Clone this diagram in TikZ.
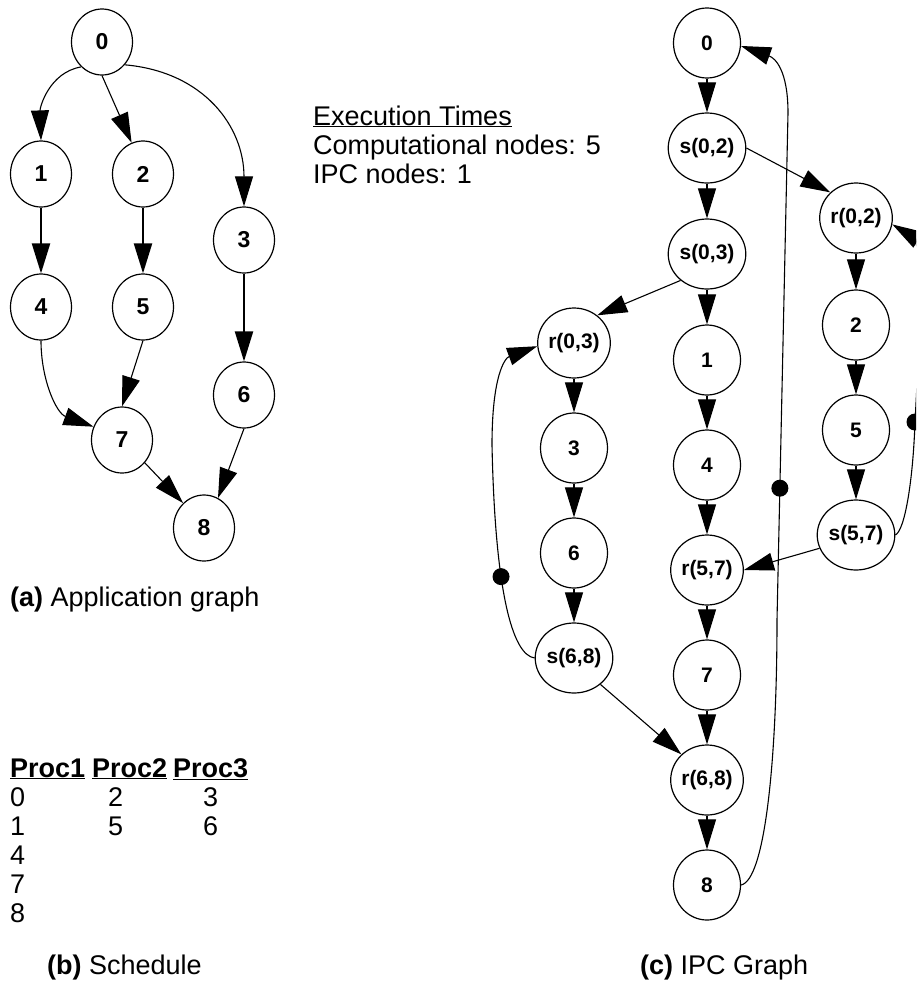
\documentclass[tikz,border=0pt]{standalone}
\usepackage{fontspec}
\setmainfont{Liberation Sans}
\usetikzlibrary{arrows.meta,shapes.geometric}

\tikzset{
  anode/.style={ellipse, draw, line width=1.2pt, minimum width=61pt, minimum height=66pt,
                inner sep=0pt, font=\fontsize{23}{24}\selectfont\bfseries},
  inode/.style={anode, minimum width=67pt, minimum height=70pt,
                font=\fontsize{21}{22}\selectfont\bfseries},
  arr/.style={line width=1.1pt, -{Triangle[length=30pt,width=18pt]}},
  thickarr/.style={arr, line width=2.2pt},
  tok/.style={circle, fill, inner sep=0pt, minimum size=17pt},
  txt/.style={anchor=base west, inner sep=0pt, font=\fontsize{27}{29}\selectfont},
}

\begin{document}
\begin{tikzpicture}[x=1pt, y=-1pt]
\useasboundingbox (0,0) rectangle (916,996);
\clip (0,0) rectangle (916,996);

% ---------- (a) application graph ----------
\node[anode] (a0) at (102,42)  {0};
\node[anode] (a1) at (41,174)  {1};
\node[anode] (a2) at (143,174) {2};
\node[anode] (a3) at (244,240) {3};
\node[anode] (a4) at (41,307)  {4};
\node[anode] (a5) at (143,307) {5};
\node[anode] (a6) at (244,395) {6};
\node[anode] (a7) at (122,440) {7};
\node[anode] (a8) at (204,528) {8};

\draw[arr] (a0.230) to[out=190,in=92] (a1.north);
\draw[arr] (a0.south) -- (a2.110);
\draw[arr] (a0.-45) to[out=-5,in=90,looseness=1.1] (a3.north);
\draw[thickarr] (a1) -- (a4);
\draw[thickarr] (a2) -- (a5);
\draw[thickarr] (a3) -- (a6);
\draw[arr] (a4.south) to[out=-90,in=160] (a7.155);
\draw[arr] (a5.south) -- (a7.north);
\draw[arr] (a7.-45) -- (a8.130);
\draw[arr] (a6.south) -- (a8.65);

\node[txt] (capa) at (10,606) {\textbf{(a)} Application graph};

% ---------- execution times ----------
\node[txt] (ex1) at (313,125) {\underline{Execution Times}};
\node[txt] (ex2) at (313,154) {Computational nodes: 5};
\node[txt] (ex3) at (313,183) {IPC nodes: 1};

% ---------- (b) schedule ----------
\node[txt] (hd1) at (10,777)  {\textbf{\underline{Proc1}}};
\node[txt] (hd2) at (92,777)  {\textbf{\underline{Proc2}}};
\node[txt] (hd3) at (173,777) {\textbf{\underline{Proc3}}};
\node[txt] (p10) at (10,806)  {0};
\node[txt] (p11) at (10,835)  {1};
\node[txt] (p14) at (10,864)  {4};
\node[txt] (p17) at (10,893)  {7};
\node[txt] (p18) at (10,922)  {8};
\node[txt] (p22) at (108,806) {2};
\node[txt] (p25) at (108,835) {5};
\node[txt] (p33) at (203,806) {3};
\node[txt] (p36) at (203,835) {6};
\node[txt] (capb) at (47,974) {\textbf{(b)} Schedule};

% ---------- (c) IPC graph ----------
\node[inode] (i0)  at (707,43)  {0};
\node[inode] (s02) at (707,148) {s(0,2)};
\node[inode] (s03) at (707,254) {s(0,3)};
\node[inode] (i1)  at (707,360) {1};
\node[inode] (i4)  at (707,465) {4};
\node[inode] (r57) at (707,570) {r(5,7)};
\node[inode] (i7)  at (707,675) {7};
\node[inode] (r68) at (707,780) {r(6,8)};
\node[inode] (i8)  at (707,885) {8};
\node[inode] (r02) at (856,218) {r(0,2)};
\node[inode] (i2)  at (856,325) {2};
\node[inode] (i5)  at (856,430) {5};
\node[inode] (s57) at (856,535) {s(5,7)};
\node[inode] (r03) at (574,343) {r(0,3)};
\node[inode] (i3)  at (574,448) {3};
\node[inode] (i6)  at (574,553) {6};
\node[inode] (s68) at (574,658) {s(6,8)};

\foreach \u/\v in {i0/s02, s02/s03, s03/i1, i1/i4, i4/r57, r57/i7, i7/r68, r68/i8,
                   r02/i2, i2/i5, i5/s57, r03/i3, i3/i6, i6/s68}
  \draw[arr] (\u) -- (\v);

\draw[arr] (s02.east) -- (r02.135);
\draw[arr] (s03.225) -- (r03.50);
\draw[arr] (s57.200) -- (r57.east);
\draw[arr] (s68.-45) -- (r68.135);

% feedback edges carrying one delay token each
\draw[arr] (i8.east) .. controls (765,880) and (777,760) .. (777,620)
  -- node[tok,pos=0.26]{} (788,113)
  .. controls (788,70) and (775,58) .. (i0.-5);
\draw[arr] (s68.west) .. controls (512,655) and (495,590) .. node[tok,pos=0.62]{} (492,445)
  .. controls (492,375) and (505,358) .. (r03.185);
\draw[arr] (s57.east) .. controls (905,530) and (913,480) .. (915,422) node[tok]{}
  -- (922,290) .. controls (924,255) and (910,235) .. (r02.-10);

\node[txt] (capc) at (640,974) {\textbf{(c)} IPC Graph};
\end{tikzpicture}
\end{document}
